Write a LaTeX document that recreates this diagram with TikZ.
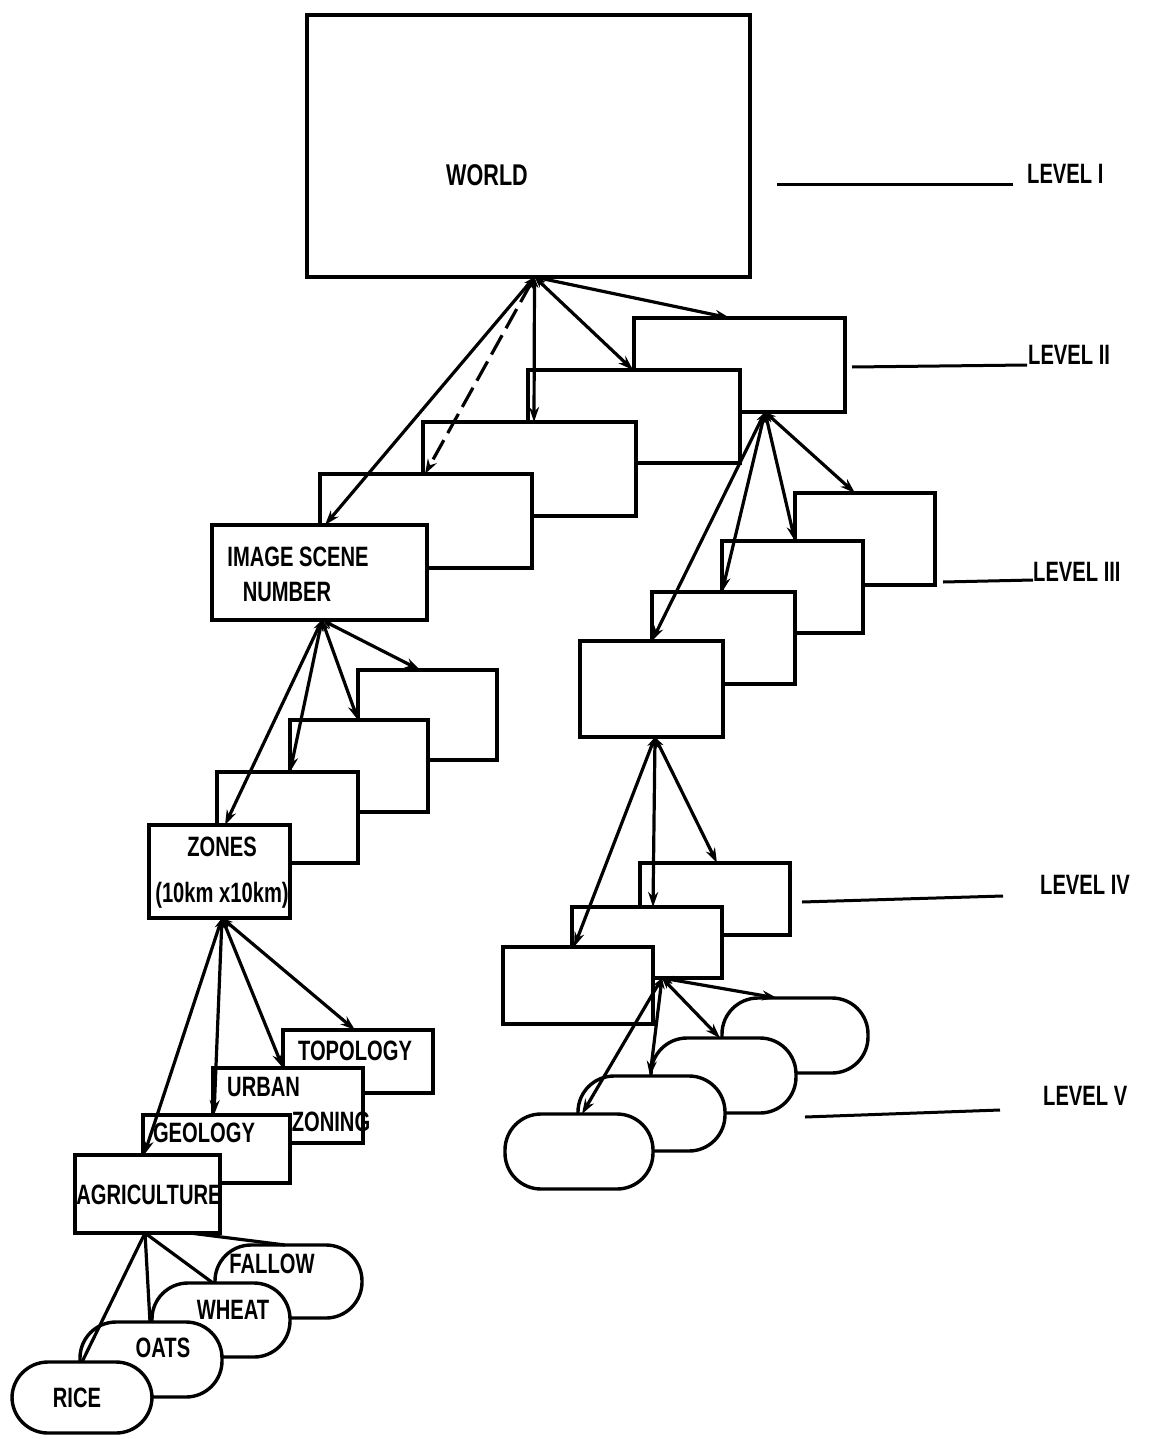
\documentclass[tikz,border=0pt]{standalone}
\usepackage{fontspec}
\setmainfont{Liberation Sans}
\newfontfamily\lbl[FakeStretch=0.72]{Liberation Sans}
\usetikzlibrary{arrows.meta}
\newcommand\mkbox[6]{\node[#2, minimum width={(#5-#3)*1pt}, minimum height={(#6-#4)*1pt}] (#1) at ({(#3+#5)/2},{(#4+#6)/2}) {};}
\begin{document}
\begin{tikzpicture}[x=1pt,y=-1pt,
  box/.style={draw, fill=white, line width=3.4pt, inner sep=0pt, outer sep=0pt},
  oval/.style={box, rounded corners=36pt},
  txt/.style={inner sep=0pt, font=\lbl\bfseries\fontsize{28pt}{30pt}\selectfont},
  link/.style={line width=3.2pt, arrows={Stealth[length=11pt,width=8pt]-Stealth[length=15pt,width=10pt]}},
  plain/.style={line width=3.2pt},
  lvline/.style={line width=3pt}]
\useasboundingbox (0,0) rectangle (1148,1439);
\fill[white] (0,0) rectangle (1148,1439);

% ---------- level I
\mkbox{world}{box}{307}{15}{750}{277}
\node[txt, font=\lbl\bfseries\fontsize{30pt}{32pt}\selectfont] (worldt) at (487,175) {WORLD};

% ---------- level II
\mkbox{l2a}{box}{634}{318}{845}{412}
\mkbox{l2b}{box}{528}{370}{740}{463}
\mkbox{l2c}{box}{423}{422}{636}{516}
\mkbox{l2d}{box}{320}{474}{532}{568}
\mkbox{isn}{box}{212}{525}{427}{620}
\node[txt] (isnt1) at (298,557) {IMAGE SCENE};
\node[txt] (isnt2) at (287,592) {NUMBER};

% ---------- level III (right)
\mkbox{l3a}{box}{795}{493}{935}{585}
\mkbox{l3b}{box}{722}{541}{863}{633}
\mkbox{l3c}{box}{652}{592}{795}{684}
\mkbox{l3d}{box}{580}{641}{723}{737}

% ---------- level IV (right)
\mkbox{l4a}{box}{640}{863}{790}{935}
\mkbox{l4b}{box}{572}{907}{722}{978}
\mkbox{l4c}{box}{503}{947}{653}{1024}

% ---------- level V (right)
\mkbox{l5a}{oval}{722}{998}{868}{1073}
\mkbox{l5b}{oval}{651}{1038}{796}{1113}
\mkbox{l5c}{oval}{578}{1076}{725}{1151}
\mkbox{l5d}{oval}{505}{1114}{653}{1189}

% ---------- level III (left)
\mkbox{lb1}{box}{358}{670}{497}{760}
\mkbox{lb2}{box}{290}{720}{428}{812}
\mkbox{lb3}{box}{217}{772}{358}{863}
\mkbox{zones}{box}{149}{825}{290}{918}
\node[txt] (zonest1) at (222,847) {ZONES};
\node[txt] (zonest2) at (222,895) {(10km x10km)};

% ---------- level IV (left)
\mkbox{topo}{box}{283}{1030}{433}{1093}
\mkbox{urban}{box}{213}{1068}{363}{1143}
\node[txt] (topot) at (355,1051) {TOPOLOGY};
\node[txt, anchor=west] (urbant) at (227,1087) {URBAN};
\node[txt] (zoningt) at (331,1122) {ZONING};
\mkbox{geol}{box}{143}{1115}{290}{1183}
\node[txt] (geolt) at (204,1133) {GEOLOGY};
\mkbox{agri}{box}{75}{1155}{220}{1233}
\node[txt] (agrit) at (149,1195) {AGRICULTURE};

% ---------- level V (left)
\mkbox{fallow}{oval}{215}{1245}{362}{1318}
\node[txt] (fallowt) at (272,1264) {FALLOW};
\mkbox{wheat}{oval}{152}{1283}{290}{1357}
\node[txt] (wheatt) at (233,1310) {WHEAT};
\mkbox{oats}{oval}{80}{1322}{222}{1397}
\node[txt] (oatst) at (163,1348) {OATS};
\mkbox{rice}{oval}{12}{1362}{152}{1433}
\node[txt] (ricet) at (77,1398) {RICE};

% ---------- connectors: world -> level II
\draw[link] ([xshift=6pt]world.south) -- ([xshift=113pt]isn.north west);
\draw[link, dashed, dash pattern=on 22pt off 8pt] ([xshift=6pt]world.south) -- ([xshift=105pt]l2d.north west);
\draw[link] ([xshift=6pt]world.south) -- ([xshift=111pt]l2c.north west);
\draw[link] ([xshift=6pt]world.south) -- ([xshift=105pt]l2b.north west);
\draw[link] ([xshift=6pt]world.south) -- ([xshift=96pt]l2a.north west);

% l2a -> level III
\draw[link] ([xshift=131pt]l2a.south west) -- ([xshift=72pt]l3d.north west);
\draw[link] ([xshift=131pt]l2a.south west) -- ([xshift=70pt]l3c.north west);
\draw[link] ([xshift=131pt]l2a.south west) -- ([xshift=73pt]l3b.north west);
\draw[link] ([xshift=131pt]l2a.south west) -- ([xshift=60pt]l3a.north west);

% l3d -> level IV
\draw[link] ([xshift=75pt]l3d.south west) -- ([xshift=71pt]l4c.north west);
\draw[link] ([xshift=75pt]l3d.south west) -- ([xshift=81pt]l4b.north west);
\draw[link] ([xshift=75pt]l3d.south west) -- ([xshift=77pt]l4a.north west);

% l4b -> level V
\draw[link] ([xshift=90pt]l4b.south west) -- ([xshift=77pt]l5d.north west);
\draw[link] ([xshift=90pt]l4b.south west) -- ([xshift=72pt]l5c.north west);
\draw[link] ([xshift=90pt]l4b.south west) -- ([xshift=69pt]l5b.north west);
\draw[link] ([xshift=90pt]l4b.south west) -- ([xshift=55pt]l5a.north west);

% isn -> level III (left)
\draw[link] ([xshift=110pt]isn.south west) -- ([xshift=76pt]zones.north west);
\draw[link] ([xshift=110pt]isn.south west) -- ([xshift=73pt]lb3.north west);
\draw[link] ([xshift=110pt]isn.south west) -- ([xshift=68pt]lb2.north west);
\draw[link] ([xshift=110pt]isn.south west) -- ([xshift=62pt]lb1.north west);

% zones -> level IV (left)
\draw[link] ([xshift=73pt]zones.south west) -- ([xshift=69pt]agri.north west);
\draw[link] ([xshift=73pt]zones.south west) -- ([xshift=71pt]geol.north west);
\draw[link] ([xshift=73pt]zones.south west) -- ([xshift=70pt]urban.north west);
\draw[link] ([xshift=73pt]zones.south west) -- ([xshift=72pt]topo.north west);

% agriculture -> crops
\draw[plain] ([xshift=70pt]agri.south west) -- ([xshift=70pt]rice.north west);
\draw[plain] ([xshift=70pt]agri.south west) -- ([xshift=70pt]oats.north west);
\draw[plain] ([xshift=70pt]agri.south west) -- ([xshift=61pt]wheat.north west);
\draw[plain] ([xshift=115pt]agri.south west) -- ([xshift=70pt]fallow.north west);

% ---------- level labels
\node[txt, anchor=west] (lv1) at (1027,174) {LEVEL I};
\node[txt, anchor=west] (lv2) at (1028,355) {LEVEL II};
\node[txt, anchor=west] (lv3) at (1033,572) {LEVEL III};
\node[txt, anchor=west] (lv4) at (1040,885) {LEVEL IV};
\node[txt, anchor=west] (lv5) at (1043,1096) {LEVEL V};
\coordinate (lv1a) at (777,185); \coordinate (lv1b) at (1013,185);
\coordinate (lv2a) at (852,367); \coordinate (lv2b) at (1027,365);
\coordinate (lv3a) at (943,582); \coordinate (lv3b) at (1033,580);
\coordinate (lv4a) at (802,902); \coordinate (lv4b) at (1003,896);
\coordinate (lv5a) at (805,1117); \coordinate (lv5b) at (1000,1110);
\draw[lvline] (lv1a) -- (lv1b);
\draw[lvline] (lv2a) -- (lv2b);
\draw[lvline] (lv3a) -- (lv3b);
\draw[lvline] (lv4a) -- (lv4b);
\draw[lvline] (lv5a) -- (lv5b);
\end{tikzpicture}
\end{document}
